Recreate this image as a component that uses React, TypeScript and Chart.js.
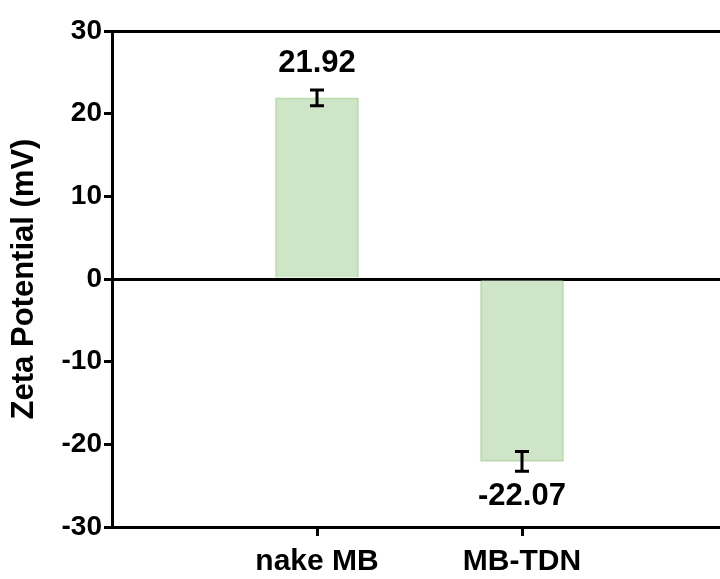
import React, { useEffect, useRef } from "react";
import { Chart, registerables } from "chart.js";

Chart.register(...registerables);

const categories: string[] = ["nake MB", "MB-TDN"];
const positions: number[] = [1, 2];
const values: number[] = [21.92, -22.07];
const errors: number[] = [0.95, 1.2];
const valueLabels: string[] = ["21.92", "-22.07"];
const yTicks: number[] = [-30, -20, -10, 0, 10, 20, 30];

const FONT = '"Liberation Sans", Arial, sans-serif';

const errorBarPlugin = {
  id: "errorBars",
  afterDatasetsDraw(chart: any) {
    const { ctx } = chart;
    const xs = chart.scales.x;
    const ys = chart.scales.y;
    ctx.save();
    ctx.strokeStyle = "#000";
    ctx.lineWidth = 3;
    ctx.fillStyle = "#000";
    ctx.font = `bold 31px ${FONT}`;
    ctx.textAlign = "center";
    values.forEach((v, i) => {
      const x = xs.getPixelForValue(positions[i]);
      const yHi = ys.getPixelForValue(v + errors[i]);
      const yLo = ys.getPixelForValue(v - errors[i]);
      const cap = 7;
      ctx.beginPath();
      ctx.moveTo(x, yHi);
      ctx.lineTo(x, yLo);
      ctx.moveTo(x - cap, yHi);
      ctx.lineTo(x + cap, yHi);
      ctx.moveTo(x - cap, yLo);
      ctx.lineTo(x + cap, yLo);
      ctx.stroke();
      if (v >= 0) {
        ctx.textBaseline = "bottom";
        ctx.fillText(valueLabels[i], x, yHi - 11);
      } else {
        ctx.textBaseline = "top";
        ctx.fillText(valueLabels[i], x, yLo + 10);
      }
    });
    ctx.restore();
  },
};

export default function App() {
  const ref = useRef<HTMLCanvasElement | null>(null);
  useEffect(() => {
    document.body.style.margin = "0";
    const canvas = ref.current;
    if (!canvas) return;
    const chart = new Chart(canvas, {
      type: "bar",
      data: {
        datasets: [
          {
            data: positions.map((p, i) => ({ x: p, y: values[i] })),
            backgroundColor: "#cfe5c7",
            borderColor: "#bcdcb0",
            borderWidth: 2,
            barThickness: 83,
          },
        ],
      },
      options: {
        animation: false,
        responsive: false,
        maintainAspectRatio: false,
        layout: { padding: { top: 31, right: 0, bottom: 0, left: 0 } },
        plugins: {
          legend: { display: false },
          tooltip: { enabled: false },
        },
        scales: {
          x: {
            type: "linear",
            offset: false,
            min: 0,
            max: 608 / 205,
            afterBuildTicks: (s: any) => {
              s.ticks = positions.map((p) => ({ value: p }));
            },
            afterFit: (s: any) => {
              s.height = 52;
            },
            border: { display: true, color: "#000", width: 3 },
            grid: {
              display: true,
              offset: false,
              drawOnChartArea: false,
              drawTicks: true,
              tickLength: 9,
              tickWidth: 3,
              tickColor: "#000",
              color: "rgba(0,0,0,0)",
              lineWidth: 3,
            },
            ticks: {
              autoSkip: false,
              maxRotation: 0,
              padding: 8,
              color: "#000",
              font: { family: FONT, size: 30, weight: "bold" },
              callback: (v: any) => {
                const idx = positions.indexOf(Number(v));
                return idx >= 0 ? categories[idx] : "";
              },
            },
          },
          y: {
            min: -30,
            max: 30,
            afterBuildTicks: (s: any) => {
              s.ticks = yTicks.map((t) => ({ value: t }));
            },
            afterFit: (s: any) => {
              s.width = 112;
            },
            border: { display: true, color: "#000", width: 3 },
            grid: {
              display: true,
              drawTicks: true,
              tickLength: 8,
              tickWidth: 3,
              tickColor: "#000",
              lineWidth: 3,
              color: (c: any) =>
                c.tick && (c.tick.value === 0 || c.tick.value === 30)
                  ? "#000"
                  : "rgba(0,0,0,0)",
            },
            ticks: {
              padding: 2,
              color: "#000",
              font: { family: FONT, size: 28, weight: "bold" },
            },
            title: {
              display: true,
              text: "Zeta Potential (mV)",
              color: "#000",
              padding: { top: 6, bottom: 0 },
              font: { family: FONT, size: 31, weight: "bold" },
            },
          },
        },
      },
      plugins: [errorBarPlugin],
    } as any);
    return () => chart.destroy();
  }, []);
  return (
    <div style={{ width: 720, height: 579, overflow: "hidden" }}>
      <canvas ref={ref} width={720} height={579} style={{ display: "block" }} />
    </div>
  );
}
